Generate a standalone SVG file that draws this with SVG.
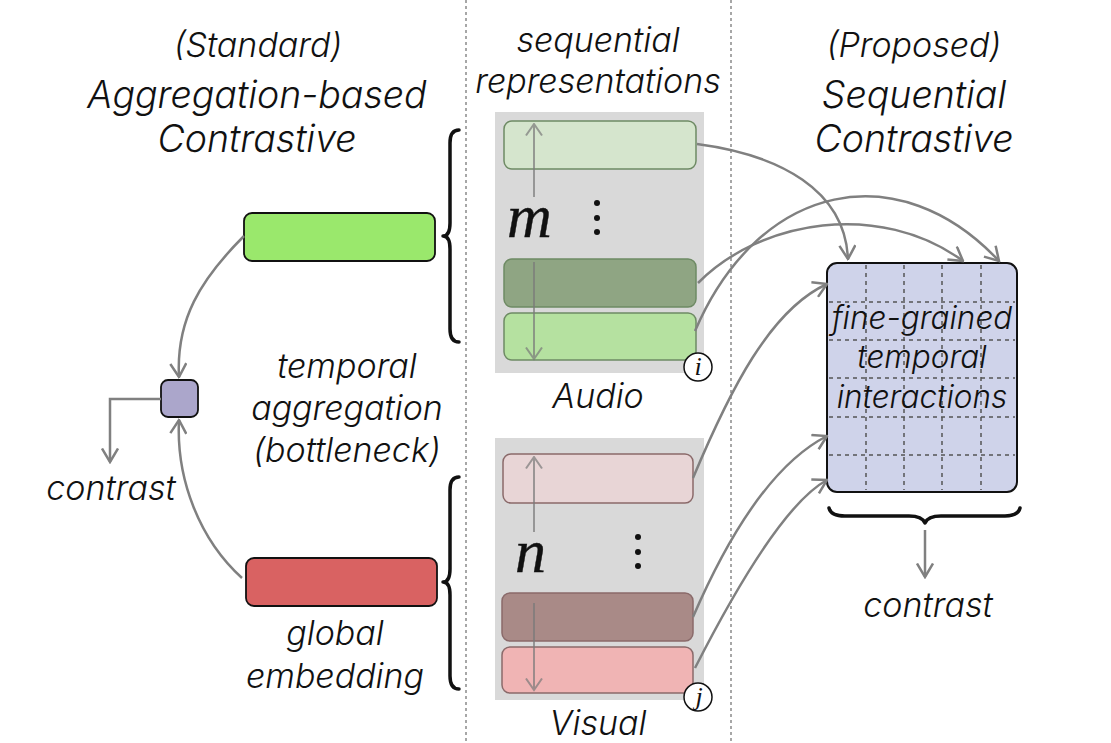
<svg xmlns="http://www.w3.org/2000/svg" width="1111" height="743" viewBox="0 0 1111 743">
<defs>
<style>
.t{font-family:Inter,"Open Sans","Liberation Sans",sans-serif;font-style:italic;font-weight:300;fill:#111;text-anchor:middle}
.s30{font-size:34px}
.s31{font-size:31.5px}
.s36{font-size:37.5px}
.math{font-family:"Liberation Serif","DejaVu Serif",serif;font-style:italic;fill:#111}
.sep{stroke:#8a8a8a;stroke-width:1.5;stroke-dasharray:3 3;fill:none}
.con{stroke:#808080;stroke-width:2.5;fill:none;marker-end:url(#ah)}
.brace{stroke:#111;stroke-width:3.5;fill:none;stroke-linecap:round;stroke-linejoin:round}
.bg{fill:#d9d9d9}
.ga{stroke:#6e8a64;stroke-width:1.5}
.pa{stroke:#8a6a6a;stroke-width:1.5}
.inner{stroke:#7a7a7a;stroke-width:2;fill:none;opacity:0.7;marker-end:url(#ah2)}
.grid{stroke:#555;stroke-width:1.5;stroke-dasharray:4 4;fill:none}
.dot{fill:#111}
</style>
<marker id="ah" viewBox="0 0 16 18" refX="14.5" refY="9" markerWidth="16" markerHeight="18" markerUnits="userSpaceOnUse" orient="auto">
<path d="M1,1 L14.5,9 L1,17" fill="none" stroke="#808080" stroke-width="2.5"/>
</marker>
<marker id="ah2" viewBox="0 0 14 18" refX="12.5" refY="9" markerWidth="14" markerHeight="18" markerUnits="userSpaceOnUse" orient="auto">
<path d="M1,1 L12.5,9 L1,17" fill="none" stroke="#7a7a7a" stroke-width="2"/>
</marker>
</defs>
<rect width="1111" height="743" fill="#fff"/>

<g id="separators">
<line class="sep" x1="466" y1="0" x2="466" y2="743"/>
<line class="sep" x1="731" y1="0" x2="731" y2="743"/>
</g>

<g id="titles">
<text class="t s30" x="258" y="57">(Standard)</text>
<text class="t s36" x="257" y="108">Aggregation-based</text>
<text class="t s36" x="257" y="152">Contrastive</text>
<text class="t s30" x="598" y="52">sequential</text>
<text class="t s30" x="598" y="93">representations</text>
<text class="t s30" x="914" y="57">(Proposed)</text>
<text class="t s36" x="914" y="108">Sequential</text>
<text class="t s36" x="914" y="152">Contrastive</text>
</g>

<g id="audio-global">
<rect x="244" y="213" width="191" height="48" rx="8" fill="#9ae86c" stroke="#111" stroke-width="1.8"/>
</g>
<g id="visual-global">
<rect x="246" y="558" width="191" height="48" rx="8" fill="#d96262" stroke="#111" stroke-width="1.8"/>
</g>
<g id="aggregate">
<rect x="161" y="380" width="37" height="37" rx="7" fill="#aba6cb" stroke="#111" stroke-width="1.8"/>
</g>

<g id="braces">
<path class="brace" d="M459,130 Q450,130 450,143 L450,223 Q450,236 443,236 Q450,236 450,249 L450,329 Q450,342 459,342"/>
<path class="brace" d="M459,477 Q450,477 450,490 L450,569 Q450,582 443,582 Q450,582 450,595 L450,676 Q450,689 459,689"/>
<path class="brace" d="M829,508 Q831,516 845,516 L909,516 Q922,516 925,523 Q928,516 941,516 L1005,516 Q1018,516 1020,508"/>
</g>

<g id="labels-left">
<text class="t s30" x="347" y="378">temporal</text>
<text class="t s30" x="347" y="420">aggregation</text>
<text class="t s30" x="347" y="462">(bottleneck)</text>
<text class="t s30" x="111" y="500">contrast</text>
<text class="t s30" x="335" y="645">global</text>
<text class="t s30" x="335" y="688">embedding</text>
</g>

<g id="audio-seq">
<rect class="bg" x="495" y="112" width="209" height="261"/>
<rect class="ga" x="504" y="121" width="192" height="48" rx="8" fill="#d5e5cd"/>
<rect class="ga" x="504" y="259" width="192" height="48" rx="8" fill="#8fa583"/>
<rect class="ga" x="504" y="313" width="192" height="47" rx="8" fill="#b5e1a0"/>
<path class="inner" d="M534,197 L534,124"/>
<path class="inner" d="M534,262 L534,359"/>
<text class="math" x="507" y="237" font-size="62" stroke="#111" stroke-width="0.4">m</text>
<circle class="dot" cx="597" cy="203" r="3"/>
<circle class="dot" cx="597" cy="218" r="3"/>
<circle class="dot" cx="597" cy="232" r="3"/>
<circle cx="698" cy="367" r="14" fill="#fff" stroke="#111" stroke-width="1.5"/>
<text class="math" x="698" y="375" font-size="26" text-anchor="middle">i</text>
<text class="t s30" x="598" y="408">Audio</text>
</g>

<g id="visual-seq">
<rect class="bg" x="495" y="438" width="209" height="262"/>
<rect class="pa" x="503" y="454" width="190" height="49" rx="8" fill="#e8d5d6"/>
<rect class="pa" x="502" y="593" width="191" height="48" rx="8" fill="#a98a87"/>
<rect class="pa" x="502" y="647" width="191" height="46" rx="8" fill="#f0b4b4"/>
<path class="inner" d="M534,532 L534,457"/>
<path class="inner" d="M534,603 L534,690"/>
<text class="math" x="515" y="572" font-size="62" stroke="#111" stroke-width="0.4">n</text>
<circle class="dot" cx="638" cy="537" r="3"/>
<circle class="dot" cx="638" cy="552" r="3"/>
<circle class="dot" cx="638" cy="566" r="3"/>
<circle cx="698" cy="697" r="14" fill="#fff" stroke="#111" stroke-width="1.5"/>
<text class="math" x="699" y="705" font-size="26" text-anchor="middle">j</text>
<text class="t s30" x="598" y="735">Visual</text>
</g>

<g id="matrix">
<rect x="827" y="263" width="190" height="229" rx="10" fill="#cfd3ea" stroke="#111" stroke-width="2"/>
<path class="grid" d="M866,265 V490 M904,265 V490 M942,265 V490 M981,265 V490 M829,302 H1015 M829,340 H1015 M829,378 H1015 M829,417 H1015 M829,455 H1015"/>
<text class="t s31" x="922" y="329">fine-grained</text>
<text class="t s31" x="922" y="368">temporal</text>
<text class="t s31" x="922" y="408">interactions</text>
</g>

<g id="contrast-right">
<text class="t s30" x="928" y="617">contrast</text>
</g>

<g id="connectors">
<path class="con" d="M244,236 C200,280 176,320 179,377"/>
<path class="con" d="M242,578 C200,540 176,480 179,420"/>
<path class="con" d="M161,399 H110 V462"/>
<path class="con" d="M697,144 C780,155 845,190 848,259"/>
<path class="con" d="M698,283 C760,220 880,200 963,261"/>
<path class="con" d="M695,331 C760,180 900,155 999,261"/>
<path class="con" d="M693,478 C730,390 770,310 827,284"/>
<path class="con" d="M693,617 C735,520 780,460 827,436"/>
<path class="con" d="M695,668 C745,570 790,500 827,480"/>
<path class="con" d="M925,530 V577"/>
</g>
</svg>
